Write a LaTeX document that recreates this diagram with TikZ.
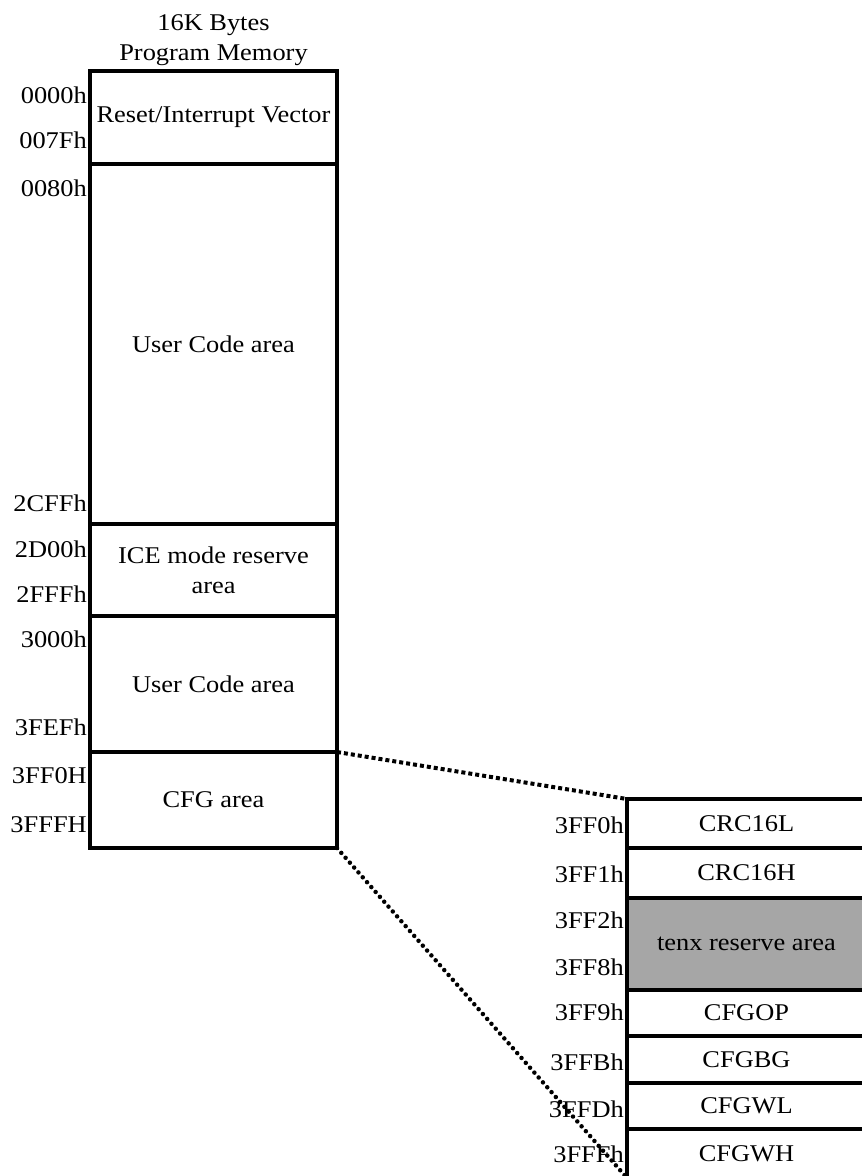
\documentclass[tikz,border=0pt]{standalone}
\usepackage{fontspec}
\setmainfont{Liberation Serif}[FakeStretch=1.1]
\usetikzlibrary{positioning}
\definecolor{resgray}{RGB}{166,166,166}

\begin{document}
\begin{tikzpicture} [
          x=1pt, y=-1pt,
          font=\fontsize{24}{30}\selectfont,
          cell/.style = {draw, line width=3.5pt, minimum width=247pt, inner sep=0pt, outer sep=0pt, align=center},
          cfgcell/.style = {draw, line width=3.5pt, minimum width=239pt, inner sep=0pt, outer sep=0pt, align=center},
          addr/.style = {anchor=base east, inner sep=0pt},
          zoomline/.style = {line width=4pt, dash pattern=on 4pt off 3pt},
          zoomdots/.style = {line width=4.5pt, line cap=round, dash pattern=on 0pt off 6.5pt}
          ]
          \useasboundingbox (0,0) rectangle (862,1176);
          \clip (0,0) rectangle (862,1176);

          \node[align=center, anchor=base] (title) at (213.5,60) {16K Bytes\\Program Memory};

          \node[cell, minimum height=93pt] (vector) at (213.5,117.5) {Reset/Interrupt Vector};
          \node[cell, minimum height=360pt, below=0pt of vector] (user1) {User Code area};
          \node[cell, minimum height=92pt, below=0pt of user1] (ice) {ICE mode reserve\\area};
          \node[cell, minimum height=136pt, below=0pt of ice] (user2) {User Code area};
          \node[cell, minimum height=96pt, below=0pt of user2] (cfg) {CFG area};

          \node[cfgcell, minimum height=49pt] (crcl) at (746.5,823.5) {CRC16L};
          \node[cfgcell, minimum height=50pt, below=0pt of crcl] (crch) {CRC16H};
          \node[cfgcell, minimum height=92pt, fill=resgray, below=0pt of crch] (tenx) {tenx reserve area};
          \node[cfgcell, minimum height=46pt, below=0pt of tenx] (cfgop) {CFGOP};
          \node[cfgcell, minimum height=47pt, below=0pt of cfgop] (cfgbg) {CFGBG};
          \node[cfgcell, minimum height=46pt, below=0pt of cfgbg] (cfgwl) {CFGWL};
          \node[cfgcell, minimum height=49pt, below=0pt of cfgwl] (cfgwh) {CFGWH};

          \foreach \adr/\y in {0000h/103, 007Fh/148, 0080h/196, 2CFFh/511, 2D00h/557,
                    2FFFh/602, 3000h/647, 3FEFh/735, 3FF0H/783, 3FFFH/832}
            \node[addr] (a\adr) at (87,\y) {\adr};

          \foreach \adr/\y in {3FF0h/833, 3FF1h/882, 3FF2h/928, 3FF8h/975, 3FF9h/1020,
                    3FFBh/1070, 3FFDh/1117, 3FFFh/1162}
            \node[addr] (b\adr) at (624,\y) {\adr};

          \draw[zoomline] (cfg.north east) -- (crcl.north west);
          \draw[zoomdots] (cfg.south east) -- (cfgwh.south west);
        \end{tikzpicture}
\end{document}
